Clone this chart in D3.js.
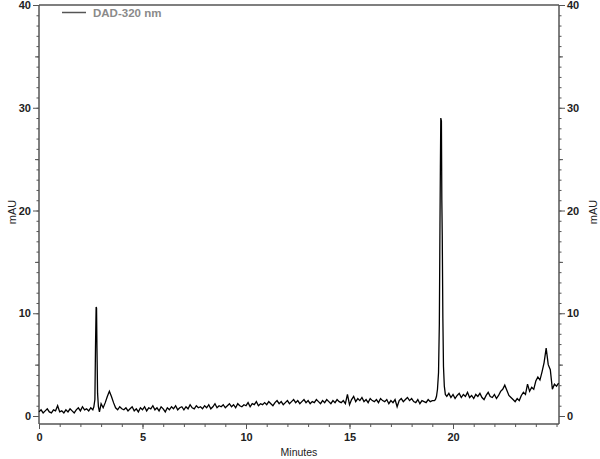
<!DOCTYPE html>
<html>
<head>
<meta charset="utf-8">
<script src="https://cdn.jsdelivr.net/npm/d3@7"></script>
<style>
  body { margin: 0; background: #fff; }
  svg { display: block; font-family: "Liberation Sans", Arial, sans-serif; }
  .axis path, .axis line { stroke: #555; }
  .axis text { fill: #222; font-size: 11px; font-weight: bold; }
</style>
</head>
<body>
<div id="chart"></div>
<script>
// chromatogram (minutes vs mAU)
const sampleStep = 0.1;

// 0.0 - 2.6 min
const segAStart = 0.0;
const segA = [0.4, 0.6, 0.3, 0.5, 0.7, 0.4, 0.3, 0.6, 0.5, 1.0,
              0.4, 0.5, 0.3, 0.6, 0.4, 0.7, 0.5, 0.3, 0.6, 0.8,
              0.5, 0.9, 0.6, 0.7, 0.5, 0.8, 0.6];

// first peak, [minutes, mAU]
const peak1 = [[2.65, 0.9], [2.70, 1.6], [2.73, 6.8], [2.76, 10.6], [2.78, 10.5],
               [2.80, 6.6], [2.83, 2.2], [2.87, 0.9], [2.92, 0.4], [2.96, 0.8]];

// 3.0 - 19.1 min
const segBStart = 3.0;
const segB = [1.2, 0.8, 1.3, 1.9, 2.4, 1.9, 1.3, 0.8, 0.6, 0.9,
              0.7, 0.6, 0.8, 0.5, 0.7, 0.9, 0.5, 0.7, 0.4, 0.8,
              0.6, 0.9, 0.5, 0.8, 0.7, 1.0, 0.6, 0.8, 0.5, 0.9,
              0.7, 0.4, 0.8, 0.6, 0.9, 0.7, 1.0, 0.6, 0.8, 0.9,
              0.6, 0.9, 0.7, 1.1, 0.8, 0.7, 1.0, 0.8, 0.9, 0.7,
              1.0, 0.8, 1.1, 0.7, 0.9, 1.2, 0.8, 1.0, 0.9, 1.1,
              0.8, 1.0, 1.2, 0.9, 1.1, 0.8, 1.2, 1.0, 0.9, 1.1,
              1.0, 1.3, 0.9, 1.2, 1.1, 1.4, 1.0, 1.2, 1.1, 1.3,
              1.1, 1.4, 1.2, 1.0, 1.3, 1.5, 1.2, 1.4, 1.1, 1.3,
              1.5, 1.2, 1.4, 1.6, 1.3, 1.5, 1.2, 1.4, 1.6, 1.3,
              1.5, 1.2, 1.4, 1.3, 1.6, 1.4, 1.2, 1.5, 1.3, 1.6,
              1.4, 1.2, 1.5, 1.3, 1.6, 1.4, 1.3, 1.5, 1.2, 2.1,
              1.1, 1.6, 1.9, 1.4, 1.7, 1.5, 1.8, 1.4, 1.6, 1.3,
              1.7, 1.5, 1.4, 1.6, 1.3, 1.7, 1.5, 1.4, 1.6, 1.2,
              1.5, 1.3, 1.6, 0.9, 1.5, 1.7, 1.4, 1.6, 1.8, 1.5,
              1.7, 1.4, 1.3, 1.6, 1.2, 1.5, 1.4, 1.3, 1.6, 1.4,
              1.5, 1.5];

// main peak, [minutes, mAU]
const peak2 = [[19.15, 1.6], [19.20, 1.9], [19.25, 2.6], [19.30, 4.2], [19.34, 9.0],
               [19.37, 18.5], [19.39, 24.2], [19.41, 29.0], [19.44, 28.7], [19.46, 21.0],
               [19.48, 17.6], [19.51, 9.5], [19.54, 4.8], [19.58, 2.9], [19.63, 2.1]];

// 19.7 - 25.1 min
const segCStart = 19.7;
const segC = [1.9, 2.2, 1.8,
              2.1, 1.7, 2.0, 2.2, 1.8, 2.1, 1.9, 2.3, 1.8, 2.0,
              1.7, 2.1, 1.9, 2.2, 1.8, 1.6, 2.0, 2.3, 1.9, 1.8,
              2.1, 1.7, 2.0, 2.4, 2.6, 3.0, 2.5, 2.0, 1.8, 1.6,
              1.4, 1.7, 1.5, 2.0, 2.3, 2.1, 3.1, 2.4, 2.8, 2.6,
              3.4, 3.8, 3.5, 4.3, 5.2, 6.6, 5.0, 4.5, 2.6, 3.1,
              2.9, 3.2];

const yMajor = [0, 10, 20, 30, 40];
const xMajor = [0, 5, 10, 15, 20];

const seg = (start, vals) => vals.map((v, i) => [start + i * sampleStep, v]);
const trace = [].concat(seg(segAStart, segA), peak1, seg(segBStart, segB), peak2, seg(segCStart, segC));

const canvWidth = 600, canvHeight = 459;
const plot = {left: 39, right: 559, top: 5, zeroY: 416, bottom: 424};

const svg = d3.select("#chart").append("svg")
    .attr("width", canvWidth)
    .attr("height", canvHeight);

const xScale = d3.scaleLinear().domain([0, 25.12]).range([plot.left, plot.right]);
const yScale = d3.scaleLinear().domain([0, 40]).range([plot.zeroY, plot.top]);

// top border
svg.append("line")
    .attr("x1", plot.left).attr("x2", plot.right)
    .attr("y1", plot.top).attr("y2", plot.top)
    .attr("stroke", "#555").attr("stroke-width", 1.5);

// y axes: minor, mid and major ticks
const yMinor = d3.range(0, 41, 1);
const yMid = [5, 15, 25, 35];
function yAxes(axisFn, x) {
  svg.append("g").attr("class", "axis")
      .attr("transform", "translate(" + x + ",0)")
      .call(axisFn(yScale).tickValues(yMinor).tickSize(2.5).tickFormat(""))
      .call(g => g.select(".domain").attr("d", `M0,${plot.top}V${plot.bottom}`).attr("stroke-width", 1.5));
  svg.append("g").attr("class", "axis")
      .attr("transform", "translate(" + x + ",0)")
      .call(axisFn(yScale).tickValues(yMid).tickSize(4).tickFormat(""))
      .call(g => g.select(".domain").remove());
  svg.append("g").attr("class", "axis")
      .attr("transform", "translate(" + x + ",0)")
      .call(axisFn(yScale).tickValues(yMajor).tickSize(6).tickPadding(2).tickFormat(d3.format("d")))
      .call(g => g.select(".domain").remove());
}
yAxes(d3.axisLeft, plot.left);
yAxes(d3.axisRight, plot.right);

// x axis
const xMinor = d3.range(0, 26, 1);
svg.append("g").attr("class", "axis")
    .attr("transform", "translate(0," + plot.bottom + ")")
    .call(d3.axisBottom(xScale).tickValues(xMinor).tickSize(3).tickFormat(""))
    .call(g => g.select(".domain").attr("d", `M${plot.left},0H${plot.right}`).attr("stroke-width", 1.5));
svg.append("g").attr("class", "axis")
    .attr("transform", "translate(0," + plot.bottom + ")")
    .call(d3.axisBottom(xScale).tickValues(xMajor).tickSize(5).tickPadding(4).tickFormat(d3.format("d")))
    .call(g => g.select(".domain").remove());

// axis titles
svg.append("text")
    .attr("x", (plot.left + plot.right) / 2).attr("y", 456)
    .attr("text-anchor", "middle")
    .attr("font-size", 10.5).attr("fill", "#222")
    .text("Minutes");
[12, 593].forEach(x => {
  svg.append("text")
      .attr("transform", "translate(" + x + ",212) rotate(-90)")
      .attr("text-anchor", "middle")
      .attr("dy", "0.35em")
      .attr("font-size", 11).attr("fill", "#222")
      .text("mAU");
});

// trace
const line = d3.line().x(d => xScale(d[0])).y(d => yScale(d[1]));
svg.append("path")
    .datum(trace)
    .attr("fill", "none")
    .attr("stroke", "#000")
    .attr("stroke-width", 1.3)
    .attr("stroke-linejoin", "miter")
    .attr("d", line);

// legend
svg.append("line")
    .attr("x1", 62).attr("x2", 86).attr("y1", 12.5).attr("y2", 12.5)
    .attr("stroke", "#555").attr("stroke-width", 1.5);
svg.append("text")
    .attr("x", 93).attr("y", 16.5)
    .attr("font-size", 11.5).attr("font-weight", "bold").attr("fill", "#8a8a8a")
    .text("DAD-320 nm");
</script>
</body>
</html>
